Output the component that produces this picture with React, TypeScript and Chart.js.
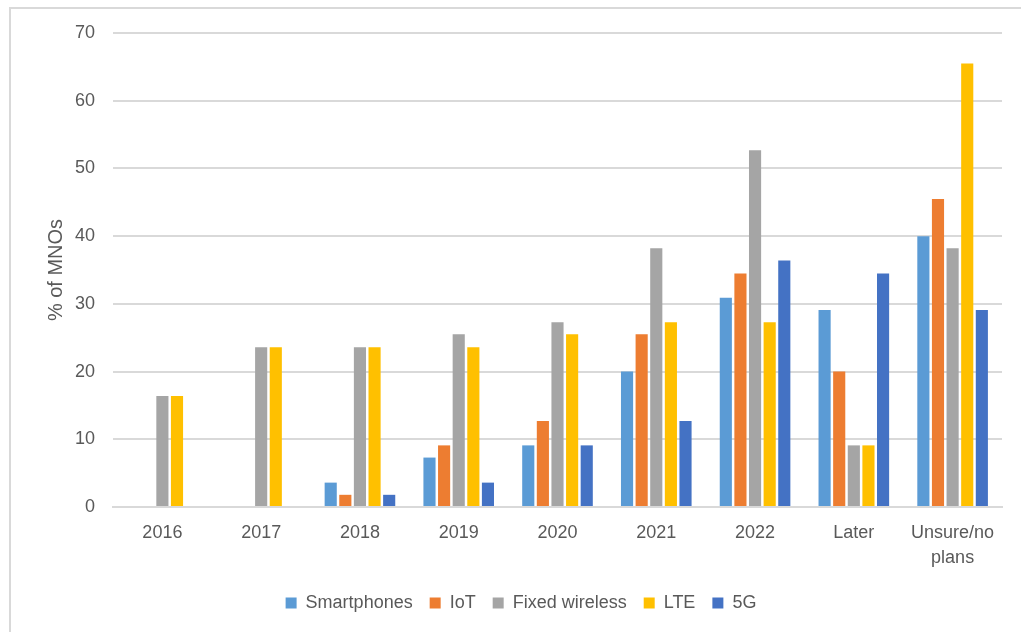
import React, { useEffect, useRef } from "react";
import { Chart, registerables } from "chart.js";

Chart.register(...registerables);

const categories: (string | string[])[] = [
  "2016",
  "2017",
  "2018",
  "2019",
  "2020",
  "2021",
  "2022",
  "Later",
  ["Unsure/no", "plans"],
];

const smartphones = [0, 0, 3.6, 7.3, 9.1, 20.0, 30.9, 29.1, 40.0];
const iot = [0, 0, 1.8, 9.1, 12.7, 25.5, 34.5, 20.0, 45.5];
const fixedWireless = [16.4, 23.6, 23.6, 25.5, 27.3, 38.2, 52.7, 9.1, 38.2];
const lte = [16.4, 23.6, 23.6, 23.6, 25.5, 27.3, 27.3, 9.1, 65.5];
const fiveG = [0, 0, 1.8, 3.6, 9.1, 12.7, 36.4, 34.5, 29.1];

const yTicks = [0, 10, 20, 30, 40, 50, 60, 70];

const FONT = "'Liberation Sans', Arial, sans-serif";
const TEXT = "#595959";
const GRID = "#d9d9d9";

export default function App() {
  const canvasRef = useRef<HTMLCanvasElement | null>(null);

  useEffect(() => {
    if (!canvasRef.current) return;
    const chart = new Chart(canvasRef.current, {
      type: "bar",
      data: {
        labels: categories,
        datasets: [
          { label: "Smartphones", data: smartphones, backgroundColor: "#5B9BD5" },
          { label: "IoT", data: iot, backgroundColor: "#ED7D31" },
          { label: "Fixed wireless", data: fixedWireless, backgroundColor: "#A5A5A5" },
          { label: "LTE", data: lte, backgroundColor: "#FFC000" },
          { label: "5G", data: fiveG, backgroundColor: "#4472C4" },
        ],
      },
      options: {
        animation: false,
        responsive: false,
        maintainAspectRatio: false,
        layout: { padding: { left: 40, right: 19, top: 33, bottom: 10 } },
        datasets: {
          bar: { categoryPercentage: 0.74, barPercentage: 0.83 },
        },
        scales: {
          x: {
            grid: { display: false, drawTicks: false },
            border: { display: true, color: GRID, width: 2 },
            ticks: {
              color: TEXT,
              font: { family: FONT, size: 18, lineHeight: 1.4 },
              padding: 13,
              maxRotation: 0,
              autoSkip: false,
            },
            afterFit: (scale: any) => {
              scale.height = 70;
            },
          },
          y: {
            min: 0,
            max: yTicks[yTicks.length - 1],
            afterBuildTicks: (scale: any) => {
              scale.ticks = yTicks.map((v) => ({ value: v }));
            },
            grid: { color: GRID, lineWidth: 2, drawTicks: false },
            border: { display: false },
            ticks: {
              color: TEXT,
              font: { family: FONT, size: 18 },
              padding: 18,
            },
            title: {
              display: true,
              text: "% of MNOs",
              color: TEXT,
              font: { family: FONT, size: 20 },
              padding: { top: 4, bottom: 4 },
            },
            afterFit: (scale: any) => {
              scale.width = 73;
            },
          },
        },
        plugins: {
          legend: {
            position: "bottom",
            labels: {
              boxWidth: 11,
              boxHeight: 11,
              padding: 17,
              color: TEXT,
              font: { family: FONT, size: 18 },
            },
          },
          tooltip: { enabled: false },
        },
      },
    });
    return () => chart.destroy();
  }, []);

  return (
    <div
      style={{
        position: "absolute",
        left: 0,
        top: 0,
        width: 1021,
        height: 632,
        overflow: "hidden",
        background: "#ffffff",
      }}
    >
      <div
        style={{
          position: "absolute",
          left: 9,
          top: 7,
          width: 1100,
          height: 700,
          border: `2px solid ${GRID}`,
          boxSizing: "border-box",
        }}
      />
      <canvas
        ref={canvasRef}
        width={1021}
        height={632}
        style={{ position: "absolute", left: 0, top: 0, width: 1021, height: 632 }}
      />
    </div>
  );
}
